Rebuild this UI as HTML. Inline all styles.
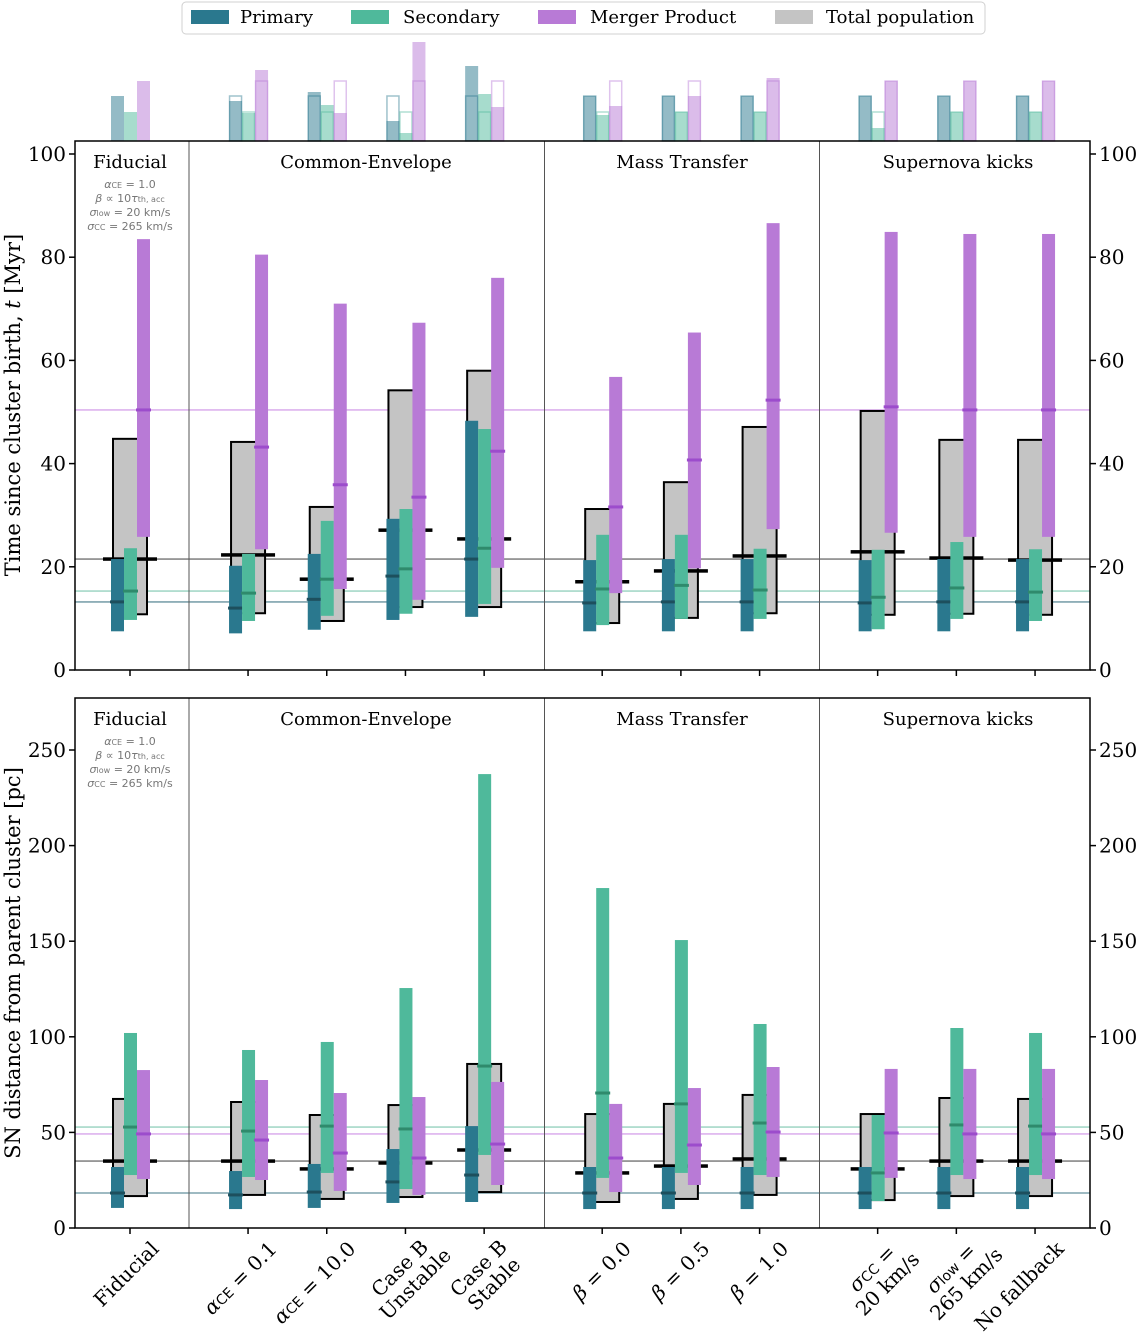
<!DOCTYPE html>
<html><head><meta charset="utf-8">
<style>
html,body{margin:0;padding:0;background:#fff;}
svg{display:block;font-family:"DejaVu Serif","Liberation Serif",serif;}
</style></head>
<body>
<svg id="chart" width="1138" height="1335" viewBox="0 0 1138 1335" xmlns="http://www.w3.org/2000/svg">
<g id="legend">
  <rect x="182" y="2" width="803" height="32" rx="4" fill="#fff" stroke="#d0d0d0" stroke-width="1"/>
  <g><rect x="191" y="10" width="38" height="14" fill="#2a788e"/><text x="240" y="23" font-size="18">Primary</text></g>
  <g><rect x="351" y="10" width="38" height="14" fill="#4fb99b"/><text x="403" y="23" font-size="18">Secondary</text></g>
  <g><rect x="538" y="10" width="38" height="14" fill="#b87ad6"/><text x="590" y="23" font-size="18">Merger Product</text></g>
  <g><rect x="775" y="10" width="38" height="14" fill="#c4c4c4"/><text x="826" y="23" font-size="18">Total population</text></g>
</g>
</svg>
<script>
const categories=["Fiducial","αCE=0.1","αCE=10.0","Case B Unstable","Case B Stable","β=0.0","β=0.5","β=1.0","σCC=20km/s","σlow=265km/s","No fallback"];
const catPos=[0,1.5,2.5,3.5,4.5,6,7,8,9.5,10.5,11.5];
// top panel: time [Myr]
const tTotLo=[10.8,11.0,9.5,12.2,12.2,9.1,10.1,11.0,10.7,10.9,10.7];
const tTotHi=[44.8,44.2,31.6,54.2,58.0,31.2,36.4,47.1,50.2,44.6,44.6];
const tTotMed=[21.5,22.3,17.6,27.1,25.4,17.1,19.2,22.1,22.9,21.7,21.3];
const tPriLo=[7.5,7.1,7.8,9.7,10.3,7.5,7.5,7.5,7.5,7.5,7.5];
const tPriHi=[21.5,20.2,22.5,29.3,48.3,21.3,21.5,21.5,21.3,21.5,21.5];
const tPriMed=[13.2,12.0,13.7,18.2,21.5,13.0,13.2,13.2,13.0,13.2,13.2];
const tSecLo=[9.7,9.5,10.5,10.9,12.8,8.7,9.9,9.9,7.9,9.9,9.5];
const tSecHi=[23.6,22.5,28.9,31.2,46.7,26.2,26.2,23.5,23.3,24.8,23.4];
const tSecMed=[15.3,14.9,17.6,19.6,23.6,15.7,16.4,15.5,14.1,15.9,15.1];
const tMerLo=[25.8,23.4,15.7,13.6,19.8,14.9,19.7,27.3,26.6,25.8,25.8];
const tMerHi=[83.5,80.5,71.0,67.3,76.0,56.8,65.4,86.6,84.9,84.5,84.5];
const tMerMed=[50.4,43.2,35.9,33.5,42.4,31.6,40.7,52.3,51.0,50.4,50.4];
// bottom panel: distance [pc]
const dTotLo=[16.7,17.3,15.2,16.2,18.8,13.6,15.2,17.3,14.6,16.7,16.7];
const dTotHi=[67.5,65.9,59.1,64.3,85.8,59.6,64.9,69.6,59.6,68.0,67.5];
const dTotMed=[35.0,35.0,30.9,34.0,40.8,28.8,32.4,36.1,30.9,35.0,35.0];
const dPriLo=[10.5,9.9,10.5,13.1,13.6,9.9,9.9,9.9,9.9,9.9,9.9];
const dPriHi=[31.9,29.8,33.5,41.3,53.3,31.9,31.9,31.9,31.9,31.9,31.9];
const dPriMed=[18.3,17.3,18.8,24.1,27.7,18.3,18.3,18.3,18.3,18.3,18.3];
const dSecLo=[27.7,26.7,28.8,20.4,38.2,26.2,28.8,27.7,14.1,27.7,27.7];
const dSecHi=[102,93.1,97.3,125.5,237.4,177.8,150.6,106.7,59.1,104.6,102];
const dSecMed=[52.8,50.7,53.3,51.8,84.7,70.6,64.9,54.9,28.8,53.9,53.3];
const dMerLo=[25.6,25.1,19.4,17.3,22.5,18.8,22.5,26.7,26.2,25.6,25.6];
const dMerHi=[82.6,77.4,70.6,68.5,76.4,64.9,73.2,84.2,83.2,83.2,83.2];
const dMerMed=[49.2,46.0,39.2,36.6,43.9,36.6,43.4,50.2,49.7,49.2,49.2];
// histogram fractions
const hPri=[0.45,0.40,0.49,0.20,0.75,0.45,0.45,0.45,0.45,0.45,0.45];
const hSec=[0.29,0.28,0.36,0.08,0.47,0.26,0.29,0.29,0.13,0.29,0.29];
const hMer=[0.60,0.71,0.28,0.99,0.34,0.35,0.45,0.63,0.60,0.60,0.60];
const topTicks=[0,20,40,60,80,100];
const botTicks=[0,50,100,150,200,250];
const groupTitles=["Fiducial","Common-Envelope","Mass Transfer","Supernova kicks"];

const NS="http://www.w3.org/2000/svg";
const svg=document.getElementById('chart');
const X0=75,X1=1090;
function xPos(k){return 130+k*78.7;}
function yTop(v){return 670-v*5.16;}
function yBot(v){return 1228-v*1.912;}
function hY(f){return 141-f*100;}
function mk(tag,attrs,parent){const e=document.createElementNS(NS,tag);for(const k in attrs)e.setAttribute(k,attrs[k]);(parent||svg).appendChild(e);return e;}
const C={pri:"#2a788e",sec:"#4fb99b",mer:"#b87ad6",tot:"#c4c4c4",priM:"#1d4f5d",secM:"#2f8a6c",merM:"#9c4ccc"};

// histograms
const hg=mk('g',{});


const hs=[[hPri,C.pri,-19],[hSec,C.sec,-6],[hMer,C.mer,7]];
for(let i=0;i<categories.length;i++){
  const c=xPos(catPos[i]);
  hs.forEach(([arr,col,off],j)=>{
    const r=mk('rect',{x:c+off,y:hY(arr[i]),width:13,height:141-hY(arr[i]),fill:col,'fill-opacity':0.5},hg);
    
    
    if(i>0){mk('rect',{x:c+off+0.5,y:hY(arr[0]),width:12,height:141-hY(arr[0]),fill:'none',stroke:col,'stroke-opacity':0.45,'stroke-width':1.5},hg);}
  });
}

function panel(name,yf,Y0,Y1,ticks,d,ylabel,ylabelY){
  const g=mk('g',{});
  
  
  [[d.totMed[0],'#888',1.6],[d.priMed[0],'#7fa3ad',1.6],[d.secMed[0],'#a6d8c8',1.6],[d.merMed[0],'#ddb3ee',1.6]].forEach(([v,col,w])=>{
    const l=mk('line',{x1:X0,x2:X1,y1:yf(v),y2:yf(v),stroke:col,'stroke-width':w},g);
    
    
  });
  [189,544.5,819.5].forEach(x=>mk('line',{x1:x,x2:x,y1:Y0,y2:Y1,stroke:'#555','stroke-width':1},g));
  for(let i=0;i<categories.length;i++){
    const c=xPos(catPos[i]);
    const gb=mk('rect',{x:c-17,y:yf(d.totHi[i]),width:34,height:yf(d.totLo[i])-yf(d.totHi[i]),fill:C.tot,stroke:'#000','stroke-width':2},g);
    
    
    const bm=mk('rect',{x:c-27,y:yf(d.totMed[i])-1.75,width:54,height:3.5,fill:'#000'},g);
    
    
    [[d.priLo,d.priHi,d.priMed,C.pri,C.priM,-19,'primary'],[d.secLo,d.secHi,d.secMed,C.sec,C.secM,-6,'secondary'],[d.merLo,d.merHi,d.merMed,C.mer,C.merM,7,'merger']].forEach(([lo,hi,md,col,mc,off,nm])=>{
      const b=mk('rect',{x:c+off,y:yf(hi[i]),width:13,height:yf(lo[i])-yf(hi[i]),fill:col},g);
      
      
      const m=mk('rect',{x:c+off-1,y:yf(md[i])-1.5,width:15,height:3,fill:mc},g);
      
      
    });
    mk('line',{x1:c,x2:c,y1:Y1,y2:Y1+6,stroke:'#000','stroke-width':1.5},g);
  }
  mk('rect',{x:X0,y:Y0,width:X1-X0,height:Y1-Y0,fill:'none',stroke:'#000','stroke-width':1.5},g);
  ticks.forEach(v=>{
    const y=yf(v);
    mk('line',{x1:X0-6,x2:X0,y1:y,y2:y,stroke:'#000','stroke-width':1.5},g);
    mk('line',{x1:X1,x2:X1+6,y1:y,y2:y,stroke:'#000','stroke-width':1.5},g);
    const t1=mk('text',{x:X0-9,y:y+7,'text-anchor':'end','font-size':20},g);t1.textContent=v;
    
    
    const t2=mk('text',{x:X1+9,y:y+7,'font-size':20},g);t2.textContent=v;
    
    
  });
  [130,366,682,958].forEach((x,j)=>{
    const t=mk('text',{x:x,y:Y0+27,'text-anchor':'middle','font-size':18},g);t.textContent=groupTitles[j];
    
    
  });
  const ann=mk('text',{x:130,y:Y0+47,'text-anchor':'middle','font-size':11,fill:'#777','font-family':'DejaVu Sans, sans-serif'},g);
  
  
  ann.innerHTML='<tspan x="130" font-style="italic">α</tspan><tspan font-size="8">CE</tspan> = 1.0<tspan x="130" dy="14" font-style="italic">β</tspan> ∝ 10<tspan font-style="italic">τ</tspan><tspan font-size="8">th, acc</tspan><tspan x="130" dy="14" font-style="italic">σ</tspan><tspan font-size="8">low</tspan> = 20 km/s<tspan x="130" dy="14" font-style="italic">σ</tspan><tspan font-size="8">CC</tspan> = 265 km/s';
  const yl=mk('text',{x:0,y:0,'text-anchor':'middle','font-size':21,transform:'translate(20,'+ylabelY+') rotate(-90)'},g);
  yl.innerHTML=ylabel;
  
  
}
panel('time-panel',yTop,141,670,topTicks,{totLo:tTotLo,totHi:tTotHi,totMed:tTotMed,priLo:tPriLo,priHi:tPriHi,priMed:tPriMed,secLo:tSecLo,secHi:tSecHi,secMed:tSecMed,merLo:tMerLo,merHi:tMerHi,merMed:tMerMed},'Time since cluster birth, <tspan font-style="italic">t</tspan> [Myr]',405);
panel('distance-panel',yBot,698,1228,botTicks,{totLo:dTotLo,totHi:dTotHi,totMed:dTotMed,priLo:dPriLo,priHi:dPriHi,priMed:dPriMed,secLo:dSecLo,secHi:dSecHi,secMed:dSecMed,merLo:dMerLo,merHi:dMerHi,merMed:dMerMed},'SN distance from parent cluster [pc]',963);

const xl=[
 ['Fiducial'],
 ['<tspan font-style="italic">α</tspan><tspan font-size="14" font-family="DejaVu Sans, sans-serif">CE</tspan> = 0.1'],
 ['<tspan font-style="italic">α</tspan><tspan font-size="14" font-family="DejaVu Sans, sans-serif">CE</tspan> = 10.0'],
 ['Case B','Unstable'],['Case B','Stable'],
 ['<tspan font-style="italic">β</tspan> = 0.0'],['<tspan font-style="italic">β</tspan> = 0.5'],['<tspan font-style="italic">β</tspan> = 1.0'],
 ['<tspan font-style="italic">σ</tspan><tspan font-size="14" font-family="DejaVu Sans, sans-serif">CC</tspan> =','20 km/s'],
 ['<tspan font-style="italic">σ</tspan><tspan font-size="14" font-family="DejaVu Sans, sans-serif">low</tspan> =','265 km/s'],
 ['No fallback']];
for(let i=0;i<categories.length;i++){
  const c=xPos(catPos[i]);
  const lines=xl[i];
  const two=lines.length>1;
  const g=mk('g',{transform:'translate('+(two?c+2:c+30)+','+(two?1276:1250)+') rotate(-45)'});
  
  
  if(!two){
    const t=mk('text',{x:0,y:0,'text-anchor':'end','font-size':20},g);t.innerHTML=lines[0];
  }else{
    const t1=mk('text',{x:0,y:-4,'text-anchor':'middle','font-size':20},g);t1.innerHTML=lines[0];
    const t2=mk('text',{x:0,y:18,'text-anchor':'middle','font-size':20},g);t2.innerHTML=lines[1];
  }
}
</script>
</body></html>
